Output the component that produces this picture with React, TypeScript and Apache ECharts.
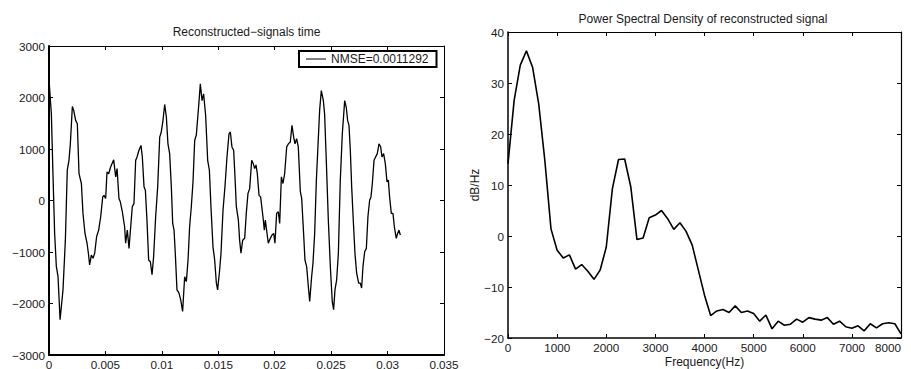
import React, { useEffect, useRef } from "react";
import * as echarts from "echarts";

// Left panel: reconstructed signal (time in ms, amplitude)
const timeMs = [
  0, 0.21, 0.35, 0.5, 0.65, 0.8, 0.98, 1.24, 1.45, 1.62, 1.77, 1.89, 2.07, 2.19, 2.36, 2.51,
  2.66, 2.87, 3.01, 3.19, 3.37, 3.49, 3.6, 3.75, 3.9, 4.05, 4.22, 4.4, 4.58, 4.76, 4.87, 5.02,
  5.14, 5.29, 5.46, 5.73, 5.91, 6.03, 6.2, 6.32, 6.5, 6.7, 6.79, 6.94, 7.09, 7.24, 7.38, 7.53,
  7.68, 7.8, 7.97, 8.15, 8.27, 8.42, 8.54, 8.68, 8.83, 8.98, 9.13, 9.27, 9.45, 9.63, 9.81, 9.95,
  10.1, 10.25, 10.4, 10.54, 10.69, 10.84, 10.96, 11.08, 11.19, 11.34, 11.52, 11.67, 11.84, 12.02,
  12.17, 12.32, 12.46, 12.61, 12.76, 12.91, 13.05, 13.23, 13.41, 13.56, 13.7, 13.88, 14.06, 14.21,
  14.35, 14.53, 14.68, 14.83, 14.94, 15.12, 15.24, 15.42, 15.59, 15.77, 15.95, 16.07, 16.21, 16.36,
  16.48, 16.6, 16.78, 16.89, 17.01, 17.16, 17.34, 17.48, 17.63, 17.78, 17.96, 18.1, 18.22, 18.34,
  18.46, 18.61, 18.75, 18.96, 19.08, 19.17, 19.32, 19.43, 19.61, 19.76, 19.91, 20.02, 20.17, 20.32,
  20.44, 20.59, 20.73, 20.88, 21.06, 21.21, 21.38, 21.53, 21.68, 21.8, 21.94, 22.09, 22.27, 22.39,
  22.56, 22.68, 22.83, 22.98, 23.1, 23.27, 23.39, 23.54, 23.69, 23.83, 23.98, 24.13, 24.31, 24.42,
  24.57, 24.75, 24.93, 25.1, 25.22, 25.34, 25.49, 25.64, 25.81, 25.99, 26.2, 26.34, 26.46, 26.58,
  26.7, 26.82, 26.96, 27.11, 27.26, 27.44, 27.58, 27.7, 27.82, 27.97, 28.12, 28.26, 28.41, 28.53,
  28.65, 28.8, 28.94, 29.09, 29.24, 29.39, 29.5, 29.65, 29.8, 29.95, 30.07, 30.18, 30.33, 30.48,
  30.6, 30.77, 30.89, 31.01, 31.13,
];
const signal = [
  2350, 1680, 520, -640, -1280, -1480, -2315, -1735, -770, 590, 780, 1100, 1825, 1750, 1555, 1490,
  520, 330, -250, -640, -830, -1025, -1250, -1060, -1120, -1025, -700, -575, -315, 70, 100, 40,
  555, 520, 650, 790, 460, 620, 40, -25, -220, -510, -830, -575, -930, -510, -120, -60,
  780, 845, 975, 1070, 845, 265, 200, -380, -1155, -1190, -1440, -1090, -315, 265, 1230, 1330,
  1555, 1865, 1620, 1100, 910, 265, -445, -575, -1025, -1735, -1800, -1930, -2155, -1480,
  -1575, -1155, -510, -120, 360, 1170, 1265, 1750, 2265, 1940, 2070, 1650, 780, 590,
  -120, -900, -1155, -1605, -1735, -1350, -1025, -185, 265, 845, 1295, 1330, 1040, 975,
  460, -120, -380, -770, -1025, -770, -735, -250, 135, 230, 780, 715, 620, 690,
  520, 100, 70, -315, -575, -380, -640, -830, -735, -670, -640, -830, -250, -220,
  -445, 460, 330, 520, 1040, 1100, 1135, 1460, 1230, 1100, 1200, 1040, 170, 40,
  -640, -1155, -1285, -1670, -1960, -1480, -1220, -640, 395, 1040, 1750, 2135, 1940, 1680,
  780, -380, -1285, -1960, -2120, -1735, -1540, -1025, 395, 1295, 1940, 1810, 1555, 1460,
  975, 265, -380, -1025, -1410, -1605, -1605, -1700, -1285, -995, -930, -315, 5, 70,
  330, 780, 845, 910, 1100, 1040, 845, 910, 715, 360, 395, 70, -250, -250,
  -510, -735, -640, -575, -670,
];

// Right panel: power spectral density
const freqHz = [
  0, 125, 250, 375, 500, 625, 750, 875, 1000, 1125, 1250, 1375, 1500, 1625, 1750, 1875,
  2000, 2125, 2250, 2375, 2500, 2625, 2750, 2875, 3000, 3125, 3250, 3375, 3500, 3625, 3750, 3875,
  4000, 4125, 4250, 4375, 4500, 4625, 4750, 4875, 5000, 5125, 5250, 5375, 5500, 5625, 5750, 5875,
  6000, 6125, 6250, 6375, 6500, 6625, 6750, 6875, 7000, 7125, 7250, 7375, 7500, 7625, 7750, 7875,
  8000,
];
const psdDb = [
  14.2, 26.6, 33.5, 36.3, 33.1, 25.9, 14.8, 1.4, -2.8, -4.3, -3.7, -6.5, -5.6, -6.9, -8.5, -6.7,
  -2.2, 9.3, 15.0, 15.1, 9.6, -0.7, -0.4, 3.6, 4.1, 5.0, 3.4, 1.3, 2.6, 0.9, -1.8, -6.7,
  -11.6, -15.6, -14.7, -14.4, -15.0, -13.7, -15.0, -14.7, -15.2, -16.7, -15.5, -18.2, -16.7, -17.5, -17.3, -16.3,
  -16.9, -16.0, -16.3, -16.5, -16.0, -17.3, -16.7, -17.8, -18.1, -17.6, -18.6, -17.2, -18.0, -17.2, -17.0, -17.2,
  -19.2,
];

const legendLabel = "NMSE=0.0011292";
const leftTitle = "Reconstructed\u2212signals time";
const rightTitle = "Power Spectral Density of reconstructed signal";
const rightXName = "Frequency(Hz)";
const rightYName = "dB/Hz";

const FONT = '"Liberation Sans", Arial, Helvetica, sans-serif';
const TXT = "#1a1a1a";
const fmtMinus = (v: number) => (v < 0 ? "\u2212" + Math.abs(v) : String(v));

function axis(opts: any, main: boolean, lw: number, extraLabel: any = {}) {
  return {
    type: "value",
    ...opts,
    axisLine: { show: true, onZero: false, lineStyle: { color: "#000", width: lw } },
    axisTick: { show: true, inside: true, length: 4, lineStyle: { color: "#000", width: 1 } },
    axisLabel: main
      ? {
          show: true,
          fontSize: 11.7,
          fontFamily: FONT,
          color: TXT,
          margin: opts.position === "left" ? 4 : 3,
          formatter: opts.fmt,
          hideOverlap: false,
          ...extraLabel,
        }
      : { show: false },
    splitLine: { show: false },
  };
}

export default function App() {
  const ref = useRef<HTMLDivElement>(null);
  useEffect(() => {
    const chart = echarts.init(ref.current!, null, { renderer: "svg" });
    const fmtX = (v: number) => String(+v.toFixed(3));
    const lx = { gridIndex: 0, min: 0, max: 0.035, interval: 0.005, fmt: fmtX };
    const ly = { gridIndex: 0, min: -3000, max: 3000, interval: 1000, fmt: fmtMinus };
    const rx = { gridIndex: 1, min: 0, max: 8000, interval: 1000, fmt: (v: number) => String(v) };
    const ry = { gridIndex: 1, min: -20, max: 40, interval: 10, fmt: fmtMinus };
    chart.setOption({
      animation: false,
      backgroundColor: "#fff",
      title: [
        {
          text: leftTitle,
          left: 246.5,
          top: 26,
          textAlign: "center",
          padding: 0,
          textStyle: { fontSize: 12, fontWeight: "normal", fontFamily: FONT, color: TXT },
        },
        {
          text: rightTitle,
          left: 703,
          top: 12.5,
          textAlign: "center",
          padding: 0,
          textStyle: { fontSize: 12, fontWeight: "normal", fontFamily: FONT, color: TXT },
        },
      ],
      legend: {
        data: [legendLabel],
        left: 299,
        top: 51,
        orient: "horizontal",
        icon: "rect",
        itemWidth: 20,
        itemHeight: 1.5,
        itemStyle: { color: "#555", borderWidth: 0 },
        padding: [1, 8, 1, 7],
        borderColor: "#000",
        borderWidth: 2,
        backgroundColor: "#fff",
        textStyle: { fontSize: 12, fontFamily: FONT, color: TXT, lineHeight: 14 },
        selectedMode: false,
      },
      grid: [
        { left: 49, top: 46, width: 395, height: 309, containLabel: false, outerBoundsMode: "none" },
        { left: 508, top: 32, width: 393, height: 306, containLabel: false, outerBoundsMode: "none" },
      ],
      xAxis: [
        axis({ ...lx, position: "bottom" }, true, 2),
        axis({ ...lx, position: "top" }, false, 1),
        {
          ...axis({ ...rx, position: "bottom" }, true, 1.5, { alignMaxLabel: "right" }),
          name: rightXName,
          nameLocation: "middle",
          nameGap: 17,
          nameMoveOverlap: false,
          nameTextStyle: { fontSize: 12, fontFamily: FONT, color: TXT, lineHeight: 13 },
        },
        axis({ ...rx, position: "top" }, false, 1),
      ],
      yAxis: [
        axis({ ...ly, position: "left" }, true, 2),
        axis({ ...ly, position: "right" }, false, 1),
        {
          ...axis({ ...ry, position: "left" }, true, 1.5),
          name: rightYName,
          nameLocation: "middle",
          nameGap: 27,
          nameMoveOverlap: false,
          nameTextStyle: { fontSize: 12, fontFamily: FONT, color: TXT },
        },
        axis({ ...ry, position: "right" }, false, 1.2),
      ],
      series: [
        {
          name: legendLabel,
          type: "line",
          xAxisIndex: 0,
          yAxisIndex: 0,
          data: timeMs.map((t, i) => [t / 1000, signal[i]]),
          showSymbol: false,
          symbol: "none",
          lineStyle: { color: "#000", width: 1.3 },
          itemStyle: { color: "#000" },
        },
        {
          name: "PSD",
          type: "line",
          xAxisIndex: 2,
          yAxisIndex: 2,
          data: freqHz.map((f, i) => [f, psdDb[i]]),
          showSymbol: false,
          symbol: "none",
          lineStyle: { color: "#000", width: 1.6 },
          itemStyle: { color: "#000" },
        },
      ],
    });
    return () => chart.dispose();
  }, []);
  return (
    <div
      ref={ref}
      style={{ position: "fixed", left: 0, top: 0, width: 911, height: 369, background: "#fff" }}
    />
  );
}
